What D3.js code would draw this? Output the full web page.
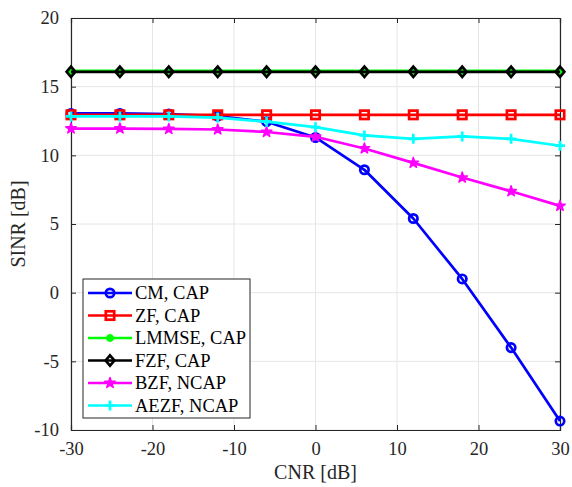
<!DOCTYPE html>
<html>
<head>
<meta charset="utf-8">
<script src="https://cdn.jsdelivr.net/npm/d3@7"></script>
<style>
  body { margin: 0; background: #fff; }
  svg text { font-family: "Liberation Serif", "Times New Roman", "DejaVu Serif", Times, serif !important; }
</style>
</head>
<body>
<div id="chart"></div>
<script>
// data
const cnr = [-30, -24, -18, -12, -6, 0, 6, 12, 18, 24, 30];
const cmCap    = [13.05, 13.05, 13.0, 12.85, 12.45, 11.3, 8.95, 5.4, 1.0, -4.0, -9.35];
const zfCap    = [12.95, 12.95, 12.95, 12.95, 12.95, 12.95, 12.95, 12.95, 12.95, 12.95, 12.95];
const lmmseCap = [16.15, 16.15, 16.15, 16.15, 16.15, 16.15, 16.15, 16.15, 16.15, 16.15, 16.15];
const fzfCap   = [16.08, 16.08, 16.08, 16.08, 16.08, 16.08, 16.08, 16.08, 16.08, 16.08, 16.08];
const bzfNcap  = [11.95, 11.95, 11.92, 11.88, 11.7, 11.35, 10.5, 9.45, 8.38, 7.38, 6.32];
const aezfNcap = [12.83, 12.83, 12.83, 12.75, 12.45, 12.05, 11.45, 11.2, 11.38, 11.2, 10.7];

const seriesNames = ["CM, CAP", "ZF, CAP", "LMMSE, CAP", "FZF, CAP", "BZF, NCAP", "AEZF, NCAP"];
const seriesValues = [cmCap, zfCap, lmmseCap, fzfCap, bzfNcap, aezfNcap];
const seriesColors = ["#0000ff", "#ff0000", "#00ff00", "#000000", "#ff00ff", "#00ffff"];
const seriesMarkers = ["circle", "square", "dot", "diamond", "star", "plus"];

const xTicks = [-30, -20, -10, 0, 10, 20, 30];
const yTicks = [-10, -5, 0, 5, 10, 15, 20];

//**********************************************************************
//                          SIZE
//**********************************************************************
const WIDTH = 572, HEIGHT = 487;
const MARGIN = {left: 71, right: 12, top: 18, bottom: 57};
const TICK_LEN = 5;
const LINE_WIDTH = 2.7;
const FONT = '"Liberation Serif", "Times New Roman", "DejaVu Serif", Times, serif';

const svg = d3.select("#chart").append("svg")
    .attr("width", WIDTH)
    .attr("height", HEIGHT)
    .attr("font-family", FONT);

const x = d3.scaleLinear().domain([-30, 30]).range([MARGIN.left, WIDTH - MARGIN.right]);
const y = d3.scaleLinear().domain([-10, 20]).range([HEIGHT - MARGIN.bottom, MARGIN.top]);

const fmt = d => String(d); // plain hyphen like MATLAB

// grid
svg.append("g").selectAll("line").data(xTicks).join("line")
    .attr("x1", d => x(d)).attr("x2", d => x(d))
    .attr("y1", y(-10)).attr("y2", y(20))
    .attr("stroke", "#e6e6e6").attr("stroke-width", 1);
svg.append("g").selectAll("line").data(yTicks).join("line")
    .attr("y1", d => y(d)).attr("y2", d => y(d))
    .attr("x1", x(-30)).attr("x2", x(30))
    .attr("stroke", "#e6e6e6").attr("stroke-width", 1);

// axes (ticks inward, box on)
const axisColor = "#262626";
const xAxis = svg.append("g")
    .attr("transform", `translate(0,${y(-10)})`)
    .call(d3.axisBottom(x).tickValues(xTicks).tickSize(-TICK_LEN).tickPadding(12).tickFormat(fmt));
const xAxisTop = svg.append("g")
    .attr("transform", `translate(0,${y(20)})`)
    .call(d3.axisTop(x).tickValues(xTicks).tickSize(-TICK_LEN).tickFormat(""));
const yAxis = svg.append("g")
    .attr("transform", `translate(${x(-30)},0)`)
    .call(d3.axisLeft(y).tickValues(yTicks).tickSize(-TICK_LEN).tickPadding(12).tickFormat(fmt));
const yAxisRight = svg.append("g")
    .attr("transform", `translate(${x(30)},0)`)
    .call(d3.axisRight(y).tickValues(yTicks).tickSize(-TICK_LEN).tickFormat(""));

[xAxis, xAxisTop, yAxis, yAxisRight].forEach(g => {
    g.attr("font-family", FONT).attr("font-size", 18.5);
    g.select(".domain").attr("stroke", axisColor).attr("stroke-width", 1.2);
    g.selectAll(".tick line").attr("stroke", axisColor).attr("stroke-width", 1);
    g.selectAll("text").attr("fill", axisColor);
});
xAxis.selectAll("text").attr("dy", "0.71em");

// axis labels
svg.append("text")
    .attr("x", (x(-30) + x(30)) / 2)
    .attr("y", 479)
    .attr("text-anchor", "middle")
    .attr("fill", axisColor)
    .attr("font-size", 20)
    .text("CNR [dB]");
svg.append("text")
    .attr("transform", `translate(25,${(y(-10) + y(20)) / 2}) rotate(-90)`)
    .attr("text-anchor", "middle")
    .attr("fill", axisColor)
    .attr("font-size", 20)
    .text("SINR [dB]");

//**********************************************************************
//                          MARKERS
//**********************************************************************
function drawMarker(g, type, color, cx, cy) {
    if (type === "circle") {
        g.append("circle").attr("cx", cx).attr("cy", cy).attr("r", 4.2)
            .attr("fill", "none").attr("stroke", color).attr("stroke-width", LINE_WIDTH);
    } else if (type === "dot") {
        g.append("circle").attr("cx", cx).attr("cy", cy).attr("r", 3.5)
            .attr("fill", color).attr("stroke", color).attr("stroke-width", 1);
    } else if (type === "square") {
        g.append("rect").attr("x", cx - 4.2).attr("y", cy - 4.2).attr("width", 8.4).attr("height", 8.4)
            .attr("fill", "none").attr("stroke", color).attr("stroke-width", LINE_WIDTH);
    } else if (type === "diamond") {
        g.append("path")
            .attr("d", `M${cx},${cy - 5.2}L${cx + 4.4},${cy}L${cx},${cy + 5.2}L${cx - 4.4},${cy}Z`)
            .attr("fill", "none").attr("stroke", color).attr("stroke-width", LINE_WIDTH);
    } else if (type === "star") {
        g.append("path")
            .attr("d", d3.symbol(d3.symbolStar, 34)())
            .attr("transform", `translate(${cx},${cy})`)
            .attr("fill", color).attr("stroke", color).attr("stroke-width", 1.5)
            .attr("stroke-linejoin", "round");
    } else if (type === "plus") {
        g.append("path")
            .attr("d", `M${cx - 5},${cy}H${cx + 5}M${cx},${cy - 5}V${cy + 5}`)
            .attr("fill", "none").attr("stroke", color).attr("stroke-width", LINE_WIDTH);
    }
}

//**********************************************************************
//                          LINES
//**********************************************************************
const lineGenerator = d3.line()
    .x((d, i) => x(cnr[i]))
    .y(d => y(d));

seriesValues.forEach((vals, k) => {
    const g = svg.append("g").attr("class", "series");
    g.append("path")
        .datum(vals)
        .attr("d", lineGenerator)
        .attr("fill", "none")
        .attr("stroke", seriesColors[k])
        .attr("stroke-width", LINE_WIDTH)
        .attr("stroke-linejoin", "round");
    vals.forEach((v, i) => drawMarker(g, seriesMarkers[k], seriesColors[k], x(cnr[i]), y(v)));
});

//**********************************************************************
//                          LEGEND
//**********************************************************************
const LEG_X = 83, LEG_Y = 279, LEG_W = 167, LEG_H = 139, ROW = 22.5;
const legend = svg.append("g");
legend.append("rect")
    .attr("x", LEG_X).attr("y", LEG_Y).attr("width", LEG_W).attr("height", LEG_H)
    .attr("fill", "#fff").attr("stroke", axisColor).attr("stroke-width", 1);

seriesNames.forEach((name, k) => {
    const cy = LEG_Y + 14 + k * ROW;
    legend.append("line")
        .attr("x1", LEG_X + 5).attr("x2", LEG_X + 49)
        .attr("y1", cy).attr("y2", cy)
        .attr("stroke", seriesColors[k]).attr("stroke-width", LINE_WIDTH);
    drawMarker(legend, seriesMarkers[k], seriesColors[k], LEG_X + 27, cy);
    legend.append("text")
        .attr("x", LEG_X + 52).attr("y", cy)
        .attr("dy", "0.35em")
        .attr("fill", "#000")
        .attr("font-size", 18.5)
        .text(name);
});
</script>
</body>
</html>
